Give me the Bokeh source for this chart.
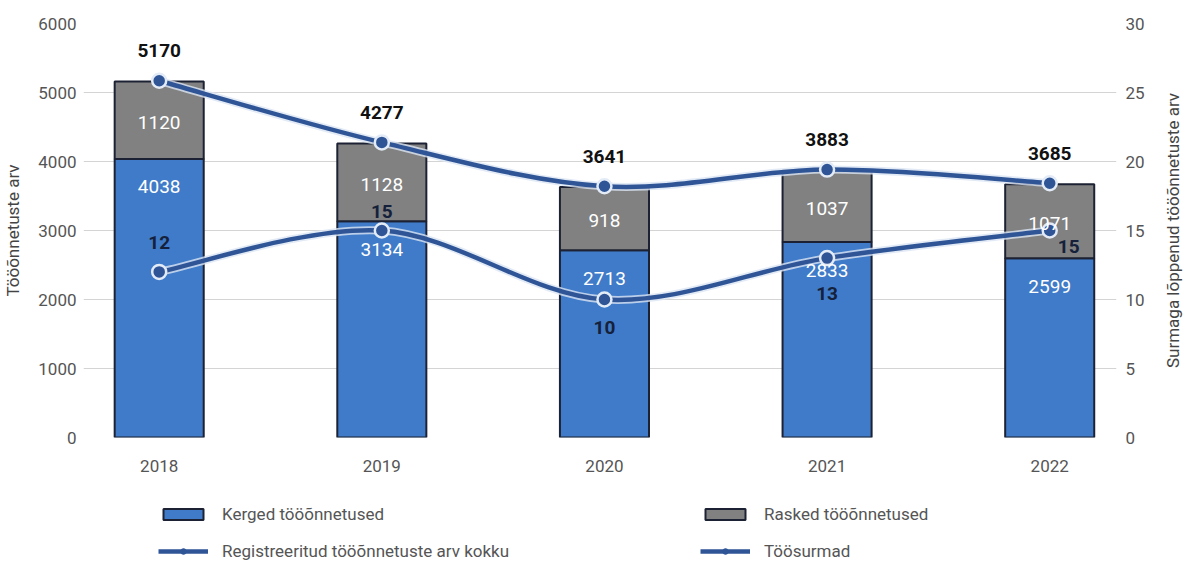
import math
from bokeh.plotting import figure
from bokeh.layouts import gridplot
from bokeh.models import (Range1d, LinearAxis, FixedTicker, Legend, LegendItem,
                          ColumnDataSource, Label)
from bokeh.core.properties import value
from bokeh.embed import file_html
from bokeh.resources import INLINE

# ---- data ----
years = [2018, 2019, 2020, 2021, 2022]
kerged = [4038, 3134, 2713, 2833, 2599]       # light accidents
rasked = [1120, 1128, 918, 1037, 1071]        # serious accidents
kokku = [5170, 4277, 3641, 3883, 3685]        # registered total
surmad = [12, 15, 10, 13, 15]                 # fatal
left_ticks = [0, 1000, 2000, 3000, 4000, 5000, 6000]
right_ticks = [0, 5, 10, 15, 20, 25, 30]
legend_labels = ["Kerged tööõnnetused", "Rasked tööõnnetused",
                 "Registreeritud tööõnnetuste arv kokku", "Töösurmad"]
left_title = "Tööõnnetuste arv"
right_title = "Surmaga lõppenud tööõnnetuste arv"

# ---- layout / style ----
BLUE = "#3f7bc8"
GRAY = "#818181"
LINE = "#2f5597"
EDGE = "#1c2233"
FONT = "Roboto"
death_dx = [0, 0, 0, 0, 19]
death_dy = [-29, -19, 28, 35, 16]
BL, BR, BT, BB = 80, 28, 23, 40
PW, RW = 1147, 36

right_range = Range1d(0, 30)
p = figure(width=PW, height=477, output_backend="svg", toolbar_location=None,
           x_range=Range1d(2017.66, 2022.30), y_range=Range1d(0, 6000),
           min_border_left=BL, min_border_right=BR, min_border_top=BT,
           min_border_bottom=BB, outline_line_color=None)
p.extra_y_ranges = {"right": right_range}

src = ColumnDataSource(dict(
    year=years, kerged=kerged, rasked=rasked, kokku=kokku, surmad=surmad,
    top=[a + b for a, b in zip(kerged, rasked)],
    mid=[a + b / 2 for a, b in zip(kerged, rasked)],
    kl=[str(v) for v in kerged], rl=[str(v) for v in rasked],
    tl=[str(v) for v in kokku], sl=[str(v) for v in surmad],
    ddx=death_dx, ddy=death_dy,
))

bar_k = dict(fill_color=BLUE, line_color=EDGE, line_width=2)
bar_r = dict(fill_color=GRAY, line_color=EDGE, line_width=2)
p.vbar(x="year", bottom=0, top="kerged", width=0.4, source=src, **bar_k)
p.vbar(x="year", bottom="kerged", top="top", width=0.4, source=src, **bar_r)


def bez(xs, ys):
    n = len(xs)
    d = dict(x0=[], y0=[], x1=[], y1=[], cx0=[], cy0=[], cx1=[], cy1=[])
    for i in range(n - 1):
        a = max(i - 1, 0)
        b = min(i + 2, n - 1)
        d["x0"].append(xs[i]); d["y0"].append(ys[i])
        d["x1"].append(xs[i + 1]); d["y1"].append(ys[i + 1])
        d["cx0"].append(xs[i] + (xs[i + 1] - xs[a]) / 6)
        d["cy0"].append(ys[i] + (ys[i + 1] - ys[a]) / 6)
        d["cx1"].append(xs[i + 1] - (xs[b] - xs[i]) / 6)
        d["cy1"].append(ys[i + 1] - (ys[b] - ys[i]) / 6)
    return ColumnDataSource(d)


bk = bez(years, kokku)
bs = bez(years, surmad)
bz = dict(x0="x0", y0="y0", x1="x1", y1="y1", cx0="cx0", cy0="cy0",
          cx1="cx1", cy1="cy1")
for s, rn in ((bk, "default"), (bs, "right")):
    p.bezier(source=s, line_color="#dbe5f4", line_width=8, line_alpha=0.8,
             y_range_name=rn, **bz)
p.bezier(source=bk, line_color=LINE, line_width=4.5, **bz)
p.bezier(source=bs, line_color=LINE, line_width=4.5, y_range_name="right", **bz)
pt = dict(size=14, fill_color=LINE, line_color="#e3ebf7", line_width=2.5)
p.scatter(x="year", y="kokku", source=src, **pt)
p.scatter(x="year", y="surmad", source=src, y_range_name="right", **pt)

# value labels
p.text(x="year", y="kerged", text="kl", source=src, y_offset=28,
       text_align="center", text_baseline="middle", text_color="white",
       text_font=value(FONT), text_font_size="19px")
p.text(x="year", y="mid", text="rl", source=src, y_offset=2,
       text_align="center", text_baseline="middle", text_color="white",
       text_font=value(FONT), text_font_size="19px")
p.text(x="year", y="kokku", text="tl", source=src, y_offset=-30,
       text_align="center", text_baseline="middle", text_color="#111111",
       text_font=value(FONT), text_font_size="19px", text_font_style="bold")
p.text(x="year", y="surmad", text="sl", source=src, x_offset="ddx", y_offset="ddy",
       y_range_name="right", text_align="center", text_baseline="middle",
       text_color="#15203a", text_font=value(FONT), text_font_size="19px",
       text_font_style="bold")


def plain(ax, standoff):
    ax.axis_line_color = None
    ax.major_tick_line_color = None
    ax.minor_tick_line_color = None
    ax.major_tick_out = 0
    ax.major_tick_in = 0
    ax.minor_tick_out = 0
    ax.major_label_standoff = standoff
    ax.major_label_text_font = FONT
    ax.major_label_text_font_size = "17px"
    ax.major_label_text_color = "#555555"


# axes
p.xaxis.ticker = FixedTicker(ticks=years)
plain(p.xaxis[0], 22)
p.xgrid.grid_line_color = None

p.yaxis.ticker = FixedTicker(ticks=left_ticks)
plain(p.yaxis[0], 7)
p.yaxis.axis_label = left_title
p.yaxis.axis_label_text_font = FONT
p.yaxis.axis_label_text_font_size = "17px"
p.yaxis.axis_label_text_font_style = "normal"
p.yaxis.axis_label_text_color = "#444444"
p.yaxis.axis_label_standoff = 12
p.ygrid.ticker = FixedTicker(ticks=left_ticks)
p.ygrid.grid_line_color = "#d4d4d4"
p.ygrid.grid_line_width = 1.2

ra = LinearAxis(y_range_name="right", ticker=FixedTicker(ticks=right_ticks))
plain(ra, 9)
ra.axis_label_standoff = 0
p.add_layout(ra, "right")

# right-hand title strip (reads bottom-to-top like the reference)
rf = figure(width=RW, height=477, output_backend="svg", toolbar_location=None,
            x_range=Range1d(0, 1), y_range=right_range,
            x_axis_type=None, y_axis_type=None, min_border_left=0,
            min_border_right=0, min_border_top=BT, min_border_bottom=BB,
            outline_line_color=None)
rf.add_layout(Label(x=0.5, y=15, x_offset=7, angle=math.pi / 2, text=right_title,
                    text_align="center", text_baseline="middle",
                    text_font=FONT, text_font_size="17px", text_color="#444444"))

# legend strip under the chart; its renderers are hidden, only the legend shows
lg = figure(width=PW, height=83, output_backend="svg", toolbar_location=None,
            x_range=Range1d(0, 1), y_range=Range1d(0, 1),
            x_axis_type=None, y_axis_type=None, min_border_left=BL,
            min_border_right=BR, min_border_top=0, min_border_bottom=0,
            outline_line_color=None)
l1 = lg.vbar(x="year", top="kerged", width=0.4, source=src, visible=False, **bar_k)
l2 = lg.vbar(x="year", top="rasked", width=0.4, source=src, visible=False, **bar_r)
l3a = lg.line(x="year", y="kokku", source=src, line_color=LINE, line_width=4.5,
              visible=False)
l3b = lg.scatter(x="year", y="kokku", source=src, marker="circle", size=11,
                 fill_color=LINE, line_color=LINE, line_width=1, visible=False)
legend = Legend(items=[
    LegendItem(label=legend_labels[0], renderers=[l1]),
    LegendItem(label=legend_labels[1], renderers=[l2]),
    LegendItem(label=legend_labels[2], renderers=[l3a, l3b]),
    LegendItem(label=legend_labels[3], renderers=[l3a, l3b]),
], orientation="horizontal", ncols=2, location=(75, -3))
legend.margin = 0
legend.padding = 0
legend.spacing = 13
legend.glyph_width = 50
legend.glyph_height = 14
legend.label_standoff = 14
legend.label_width = 465
legend.label_height = 24
legend.label_text_font = FONT
legend.label_text_font_size = "17px"
legend.label_text_color = "#555555"
legend.border_line_color = None
legend.background_fill_alpha = 0
legend.inactive_fill_alpha = 0
lg.add_layout(legend, "center")

grid = gridplot([[p, rf], [lg, None]], toolbar_location=None)
open("out.html", "w").write(file_html(grid, INLINE))
